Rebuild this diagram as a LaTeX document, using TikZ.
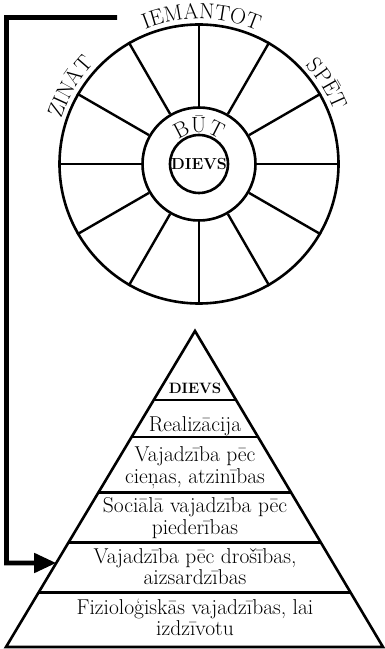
\documentclass[tikz,border=0pt]{standalone}
\usetikzlibrary{arrows.meta,decorations.text,calc}
\begin{document}
\begin{tikzpicture}[x=1pt,y=1pt,
  ring/.style={circle, draw, line width=2.6pt, inner sep=0pt},
  spoke/.style={line width=2.4pt},
  pyr/.style={line width=2.6pt, line join=miter},
  lvl/.style={align=center, font=\fontsize{21.5}{22}\selectfont, inner sep=0pt, anchor=base},
  boldlbl/.style={font=\bfseries\fontsize{16}{16}\selectfont, inner sep=0pt},
  feedback/.style={line width=4.6pt, line join=miter, -{Triangle[length=22pt,width=19pt]}}
]
\useasboundingbox (0,0) rectangle (385,649);
% wheel
\coordinate (c) at (199,485);
\node[ring, minimum size=279pt] (outer) at (c) {};
\node[ring, minimum size=113pt] (mid) at (c) {};
\node[ring, minimum size=58pt, boldlbl] (inner) at (c) {DIEVS};
\foreach \a in {0,30,...,330} \draw[spoke] (mid.\a) -- (outer.\a);
\path[decorate, decoration={text along path, text align=center,
  text={|\fontsize{22}{22}\selectfont|IEMANTOT}}]
  ($(c)+(129:145)$) arc[start angle=129, end angle=49, radius=145];
\path[decorate, decoration={text along path, text align=center,
  text={|\fontsize{22}{22}\selectfont|ZINĀT}}]
  ($(c)+(189:145)$) arc[start angle=189, end angle=109, radius=145];
\path[decorate, decoration={text along path, text align=center,
  text={|\fontsize{22}{22}\selectfont|SPĒT}}]
  ($(c)+(72:145)$) arc[start angle=72, end angle=-8, radius=145];
\path[decorate, decoration={text along path, text align=center,
  text={|\fontsize{22}{22}\selectfont|BŪT}}]
  ($(c)+(170:31.5)$) arc[start angle=170, end angle=10, radius=31.5];
% pyramid
\coordinate (apex) at (195,318);
\coordinate (bl) at (6,2);
\coordinate (br) at (383,2);
\draw[pyr] (apex) -- (bl) -- (br) -- cycle;
\foreach \t in {0.218,0.335,0.512,0.670,0.828}
  \draw[pyr] ($(apex)!\t!(bl)$) -- ($(apex)!\t!(br)$);
\node[boldlbl, anchor=base, font=\bfseries\fontsize{15}{15}\selectfont] (p6) at (195,255) {DIEVS};
\node[lvl] (p5) at (195,217) {Realizācija};
\node[lvl] (p4) at (195,165) {Vajadzība pēc\\cieņas, atzinības};
\node[lvl] (p3) at (195,114) {Sociālā vajadzība pēc\\piederības};
\node[lvl] (p2) at (195,64) {Vajadzība pēc drošības,\\aizsardzības};
\node[lvl] (p1) at (195,13) {Fizioloģiskās vajadzības, lai\\izdzīvotu};
% feedback arrow
\coordinate (fbstart) at (117,631.5);
\coordinate (fbcorner1) at (6.5,631.5);
\coordinate (fbcorner2) at (6.5,86);
\coordinate (fbend) at ($(apex)!{(318-86)/316}!(bl)$);
\draw[feedback] (fbstart) -- (fbcorner1) -- (fbcorner2) -- (fbend);
\end{tikzpicture}
\end{document}
